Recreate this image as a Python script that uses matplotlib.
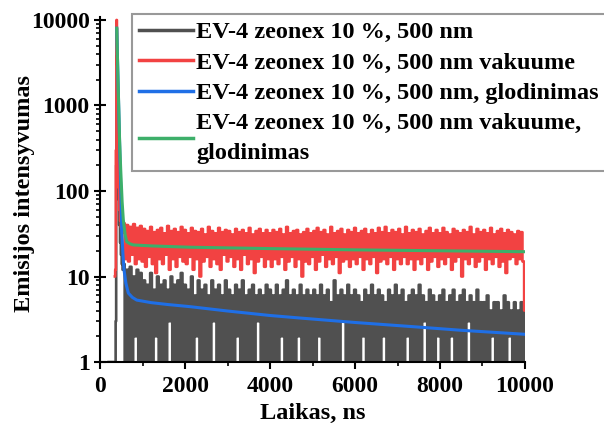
import numpy as np
import matplotlib
matplotlib.use("Agg")
import matplotlib.pyplot as plt
from matplotlib.lines import Line2D
from matplotlib.ticker import LogLocator, MultipleLocator, NullFormatter

# etiketes
labels = ["EV-4 zeonex 10 %, 500 nm",
          "EV-4 zeonex 10 %, 500 nm vakuume",
          "EV-4 zeonex 10 %, 500 nm, glodinimas",
          "EV-4 zeonex 10 %, 500 nm vakuume,\nglodinimas"]
colors = ["#505050", "#f24242", "#1f6fe6", "#3daf6a"]

# pradzia (iki 540 ns) - smailes zona
black_t0 = [0, 360, 375, 385, 393, 402, 412, 425, 440, 460, 480, 500, 520, 540]
black_c0 = [0, 1, 3, 200, 8000, 3000, 700, 200, 80, 40, 25, 18, 14, 12]
red_t0 = [350, 365, 380, 393, 402, 412, 425, 440, 460, 480, 500, 520, 540]
red_c0 = [10, 12, 300, 10000, 4000, 900, 250, 110, 60, 45, 38, 36, 33]

# triuksmingos kreives, kanalai kas 40 ns nuo 560 iki 10000 ns
t_noise = np.arange(560, 10001, 40)
black_c = [14, 1, 12, 0, 13, 1, 10, 2, 12, 1, 11,
           1, 9, 0, 8, 1, 11, 1, 7, 2, 10, 0, 8, 1, 9, 1, 7, 3, 10, 0, 8, 1, 9, 1, 11, 0,
           8, 1, 7, 0, 10, 1, 6, 2, 9, 1, 7, 0, 8, 1, 6, 1, 9, 3, 7, 0, 8, 1, 6, 1, 9,
           1, 7, 0, 6, 1, 8, 2, 7, 1, 9, 0, 6, 1, 7, 1, 8, 0, 6, 3, 7, 1, 6, 0, 8, 1,
           7, 0, 6, 1, 8, 1, 6, 2, 7, 0, 9, 1, 6, 1, 7, 0, 6, 2, 8, 1, 6, 1, 7, 0, 6,
           1, 7, 0, 6, 2, 8, 1, 6, 0, 7, 1, 5, 1, 9, 0, 6, 1, 7, 3, 6, 1, 8, 0, 6, 1,
           7, 1, 6, 0, 5, 2, 7, 1, 6, 0, 8, 1, 6, 1, 7, 0, 6, 2, 5, 1, 7, 0, 6, 1, 8,
           1, 6, 0, 7, 1, 5, 2, 6, 1, 7, 0, 6, 1, 8, 0, 6, 3, 5, 1, 7, 0, 6, 1, 5, 2,
           6, 1, 7, 0, 5, 1, 6, 2, 7, 1, 5, 0, 6, 1, 7, 0, 5, 3, 6, 1, 5, 0, 7, 1, 5,
           1, 5, 0, 6, 1, 4, 2, 5, 0, 5, 1, 4, 1, 6, 0, 5, 2, 4, 1, 5, 0, 4, 1, 5, 1,
           4]
red_c = [42, 16, 40, 15, 38, 18, 41, 14, 37, 16, 39,
         15, 36, 13, 34, 17, 38, 14, 33, 11, 35, 16, 37, 14, 32, 18, 39, 12, 34, 16, 36, 13, 33, 17, 38, 15,
         35, 14, 32, 17, 37, 12, 34, 16, 33, 10, 36, 15, 31, 17, 38, 13, 34, 16, 32, 14, 37, 12, 33, 18, 35,
         15, 34, 17, 31, 13, 36, 16, 33, 12, 35, 18, 32, 14, 37, 16, 31, 11, 34, 15, 36, 17, 32, 13, 35, 16,
         32, 13, 35, 16, 33, 14, 36, 17, 31, 12, 38, 15, 32, 17, 34, 13, 35, 16, 31, 10, 33, 15, 36, 14, 32,
         17, 34, 12, 37, 15, 33, 18, 35, 13, 31, 16, 38, 14, 32, 17, 34, 11, 36, 15, 31, 16, 35, 13, 33, 16,
         37, 14, 32, 17, 34, 12, 36, 16, 31, 14, 35, 17, 32, 11, 37, 15, 33, 16, 38, 14, 32, 17, 35, 12, 33,
         16, 36, 14, 31, 17, 38, 14, 32, 16, 35, 12, 33, 16, 36, 14, 31, 17, 34, 12, 37, 15, 32, 17, 35, 13,
         32, 16, 37, 14, 33, 17, 31, 12, 36, 15, 34, 17, 32, 10, 35, 16, 33, 14, 38, 17, 31, 13, 36, 15, 33,
         17, 35, 12, 32, 16, 37, 14, 31, 17, 34, 13, 36, 15, 32, 11, 35, 16, 33, 17, 31, 14, 34, 16, 33, 15,
         4]

# glodintos kreives
blue_t = [393, 450, 487, 511, 540, 565, 610, 666, 760, 864, 1200, 1600, 2118, 3000, 4000,
          4706, 6000, 7365, 8500, 10000]
blue_y = [8000, 600, 110, 33, 18, 11.9, 8.3, 6.4, 5.7, 5.3, 4.95, 4.7, 4.44, 3.95, 3.5,
          3.27, 2.9, 2.59, 2.35, 2.11]
green_t = [393, 430, 460, 487, 520, 548, 590, 628, 700, 784, 1200, 2118, 4000, 6000, 8000, 10000]
green_y = [8000, 1500, 400, 177, 75, 46, 31, 25.5, 24.2, 23.4, 22.8, 22.0, 21.2, 20.5, 20.0, 19.5]

plt.rcParams["font.family"] = ["Liberation Serif", "DejaVu Serif"]
plt.rcParams["font.weight"] = "bold"
plt.rcParams["axes.labelweight"] = "bold"
plt.rcParams["path.simplify"] = False

fig = plt.figure(figsize=(6.04, 4.30), dpi=100)
ax = fig.add_axes([0.1656, 0.1581, 0.7036, 0.8024])

ax.plot(black_t0 + list(t_noise), black_c0 + black_c, color=colors[0], lw=1.9,
        drawstyle="steps-mid", snap=False)
ax.plot(red_t0 + list(t_noise), red_c0 + red_c, color=colors[1], lw=1.9,
        drawstyle="steps-mid", snap=False)
ax.plot(blue_t, blue_y, color=colors[2], lw=2.2)
ax.plot(green_t, green_y, color=colors[3], lw=2.2)

ax.set_yscale("log")
ax.set_xlim(0, 10000)
ax.set_ylim(1, 10840)
ax.set_yticks([1, 10, 100, 1000, 10000])
ax.set_yticklabels(["1", "10", "100", "1000", "10000"])
ax.yaxis.set_minor_locator(LogLocator(base=10, subs=np.arange(2, 10)))
ax.yaxis.set_minor_formatter(NullFormatter())
ax.xaxis.set_major_locator(MultipleLocator(2000))
ax.xaxis.set_minor_locator(MultipleLocator(1000))

for s in ["top", "right"]:
    ax.spines[s].set_visible(False)
for s in ["left", "bottom"]:
    ax.spines[s].set_linewidth(1.5)

ax.tick_params(axis="both", which="major", labelsize=17, width=1.5)
ax.tick_params(axis="x", which="major", direction="out", length=5, pad=5)
ax.tick_params(axis="x", which="minor", direction="out", length=3, width=1.2)
ax.tick_params(axis="y", which="major", direction="inout", length=8)
ax.tick_params(axis="y", which="minor", direction="out", length=3, width=1.2)

ax.set_xlabel("Laikas, ns", fontsize=17.5, labelpad=4)
ax.set_ylabel("Emisijos intensyvumas", fontsize=17.5)
ax.yaxis.set_label_coords(-0.153, 0.487)

handles = [Line2D([], [], color=c, lw=2.5) for c in colors]
leg = fig.legend(handles, labels, loc="upper left", bbox_to_anchor=(132 / 604, 1 - 14 / 430),
                 fontsize=17.5, frameon=True, fancybox=False, borderpad=0.3,
                 labelspacing=0.35, handlelength=2.2, handletextpad=0.15,
                 borderaxespad=0)
for txt in leg.get_texts():
    txt.set_linespacing(1.55)
leg.get_frame().set_edgecolor("#808080")
leg.get_frame().set_linewidth(1.5)

fig.savefig("out.png", dpi=100)
